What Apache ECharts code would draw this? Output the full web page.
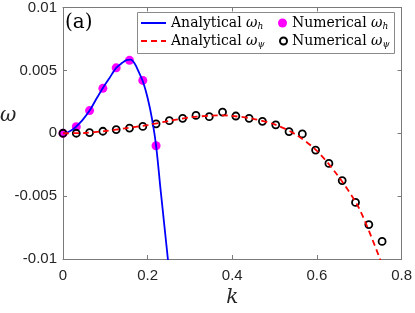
<!DOCTYPE html>
<html><head><meta charset="utf-8">
<script src="https://cdn.jsdelivr.net/npm/echarts@6/dist/echarts.min.js"></script>
<style>html,body{margin:0;padding:0;background:#fff}#c{width:415px;height:313px}</style>
</head><body><div id="c"></div>
<script>
// ---- data ----
const xTicks = [0, 0.2, 0.4, 0.6, 0.8];
const xTickLabels = ['0', '0.2', '0.4', '0.6', '0.8'];
const yTicks = [-0.01, -0.005, 0, 0.005, 0.01];
const yTickLabels = ['-0.01', '-0.005', '0', '0.005', '0.01'];

const kNumH = [0, 0.0314, 0.0628, 0.0942, 0.1257, 0.1571, 0.1885, 0.2199];
const omegaNumH = [0, 0.00052, 0.0018, 0.00357, 0.0052, 0.0058, 0.0042, -0.00099];

const kNumPsi = [0, 0.0314, 0.0628, 0.0942, 0.1257, 0.1571, 0.1885, 0.2199, 0.2513, 0.2827,
  0.3142, 0.3456, 0.3770, 0.4084, 0.4398, 0.4712, 0.5027, 0.5341, 0.5655, 0.5969,
  0.6283, 0.6597, 0.6912, 0.7226, 0.7540];
const omegaNumPsi = [0, 0, 0.00005, 0.00016, 0.00029, 0.00041, 0.00054, 0.00075, 0.0010, 0.00119,
  0.00142, 0.00132, 0.00168, 0.00137, 0.00119, 0.00095, 0.00067, 0.00013, -0.00005, -0.00134,
  -0.0024, -0.00376, -0.0055, -0.00726, -0.0086];

const kLineH = [0, 0.01, 0.02, 0.03, 0.045, 0.0628, 0.08, 0.0942, 0.11, 0.1257, 0.14, 0.15,
  0.16, 0.17, 0.18, 0.19, 0.2, 0.21, 0.22, 0.23, 0.24, 0.25];
const omegaLineH = [0, 0.00006, 0.00023, 0.0005, 0.001, 0.0018, 0.0028, 0.0036, 0.0044, 0.0052,
  0.0056, 0.00582, 0.00585, 0.0055, 0.0048, 0.0040, 0.0028, 0.0012, -0.001, -0.0043, -0.0075, -0.0107];

const kLinePsi = [0, 0.05, 0.1, 0.15, 0.2, 0.25, 0.3, 0.35, 0.38, 0.4, 0.45, 0.5, 0.55, 0.6,
  0.65, 0.7, 0.75];
const omegaLinePsi = [0, 0.00002, 0.00018, 0.0004, 0.00065, 0.00098, 0.00126, 0.0014, 0.00142,
  0.00138, 0.00115, 0.0007, -0.0001, -0.0014, -0.0034, -0.006, -0.0101];

const seriesNames = ['Analytical ω_h', 'Numerical ω_h', 'Analytical ω_ψ', 'Numerical ω_ψ'];

// ---- build chart ----
const zip = (a, b) => a.map((v, i) => [v, b[i]]);
const axisGray = '#7a7a7a';
const labelColor = '#262626';
const serif = 'DejaVu Serif';

function legendFmt(name) {
  const [main, sub] = name.split('_');
  const word = main.replace(' ω', '');
  return word + ' {w|ω}{s|' + sub + '}';
}
const legendRich = {
  w: { fontFamily: serif, fontStyle: 'italic', fontSize: 14, color: '#000' },
  s: { fontFamily: serif, fontStyle: 'italic', fontSize: 9, color: '#000', padding: [7, 0, 0, 0] }
};
function mkLegend(name, left, top, iw, ih, hideSymbol) {
  const l = {
    data: [name], left: left, top: top, padding: 0, itemWidth: iw, itemHeight: ih, itemGap: 0,
    formatter: legendFmt, selectedMode: false,
    textStyle: { fontFamily: serif, fontSize: 14, color: '#000', rich: legendRich }
  };
  if (hideSymbol) l.itemStyle = { opacity: 0 };
  return l;
}

const xAxisBase = {
  type: 'value', min: xTicks[0], max: xTicks[xTicks.length - 1], interval: xTicks[1] - xTicks[0],
  axisLine: { show: true, onZero: false, lineStyle: { color: axisGray, width: 1 } },
  axisTick: { show: true, inside: true, length: 4, lineStyle: { color: axisGray } },
  splitLine: { show: false }
};
const yAxisBase = {
  type: 'value', min: yTicks[0], max: yTicks[yTicks.length - 1], interval: yTicks[1] - yTicks[0],
  axisLine: { show: true, onZero: false, lineStyle: { color: axisGray, width: 1 } },
  axisTick: { show: true, inside: true, length: 4, lineStyle: { color: axisGray } },
  splitLine: { show: false }
};
const nearest = (arr, v) => { let b = 0; arr.forEach((t, i) => { if (Math.abs(t - v) < Math.abs(arr[b] - v)) b = i; }); return b; };

const option = {
  animation: false,
  backgroundColor: '#fff',
  grid: { left: 63, right: 13, top: 7, bottom: 48 },
  xAxis: [
    Object.assign({}, xAxisBase, {
      position: 'bottom',
      axisLabel: { show: true, margin: 9, fontFamily: 'Liberation Sans', fontSize: 15, color: labelColor,
        formatter: v => xTickLabels[nearest(xTicks, v)] },
      name: 'k', nameLocation: 'middle', nameGap: 29,
      nameTextStyle: { fontFamily: serif, fontStyle: 'italic', fontSize: 20, color: labelColor }
    }),
    Object.assign({}, xAxisBase, { position: 'top', axisLabel: { show: false } })
  ],
  yAxis: [
    Object.assign({}, yAxisBase, {
      position: 'left',
      axisLabel: { show: true, margin: 6, fontFamily: 'Liberation Sans', fontSize: 15, color: labelColor,
        formatter: v => yTickLabels[nearest(yTicks, v)] }
    }),
    Object.assign({}, yAxisBase, { position: 'right', axisLabel: { show: false } })
  ],
  legend: [
    mkLegend(seriesNames[0], 140, 16, 25, 14, true),
    mkLegend(seriesNames[2], 140, 34, 25, 14, true),
    mkLegend(seriesNames[1], 278, 16, 9, 9, false),
    mkLegend(seriesNames[3], 279, 34, 7, 7, false)
  ],
  graphic: [
    { type: 'rect', z: 3, shape: { x: 137.5, y: 12.5, width: 257, height: 41 },
      style: { fill: '#fff', stroke: '#8a8a8a', lineWidth: 1 } },
    { type: 'text', z: 5, left: 65, top: 13,
      style: { text: '(a)', font: '20px "DejaVu Serif"', fill: '#000' } },
    { type: 'text', z: 5, left: 0, top: 106,
      style: { text: 'ω', font: 'italic 20px "DejaVu Serif"', fill: labelColor } }
  ],
  series: [
    { name: seriesNames[0], type: 'line', data: zip(kLineH, omegaLineH), symbol: 'none', smooth: 0.3,
      color: '#0000ff', lineStyle: { color: '#0000ff', width: 1.8 }, clip: true },
    { name: seriesNames[1], type: 'scatter', data: zip(kNumH, omegaNumH), symbol: 'circle', symbolSize: 9,
      itemStyle: { color: '#ff00ff', opacity: 1 } },
    { name: seriesNames[2], type: 'line', data: zip(kLinePsi, omegaLinePsi), symbol: 'none', smooth: 0.3,
      color: '#ff0000', lineStyle: { color: '#ff0000', width: 1.8, type: [6, 4] }, clip: true },
    { name: seriesNames[3], type: 'scatter', data: zip(kNumPsi, omegaNumPsi), symbol: 'circle', symbolSize: 7,
      itemStyle: { color: 'rgba(255,255,255,0)', borderColor: '#000', borderWidth: 1.8, opacity: 1 } }
  ]
};
const chart = echarts.init(document.getElementById('c'), null, { renderer: 'canvas' });
chart.setOption(option);
</script></body></html>
